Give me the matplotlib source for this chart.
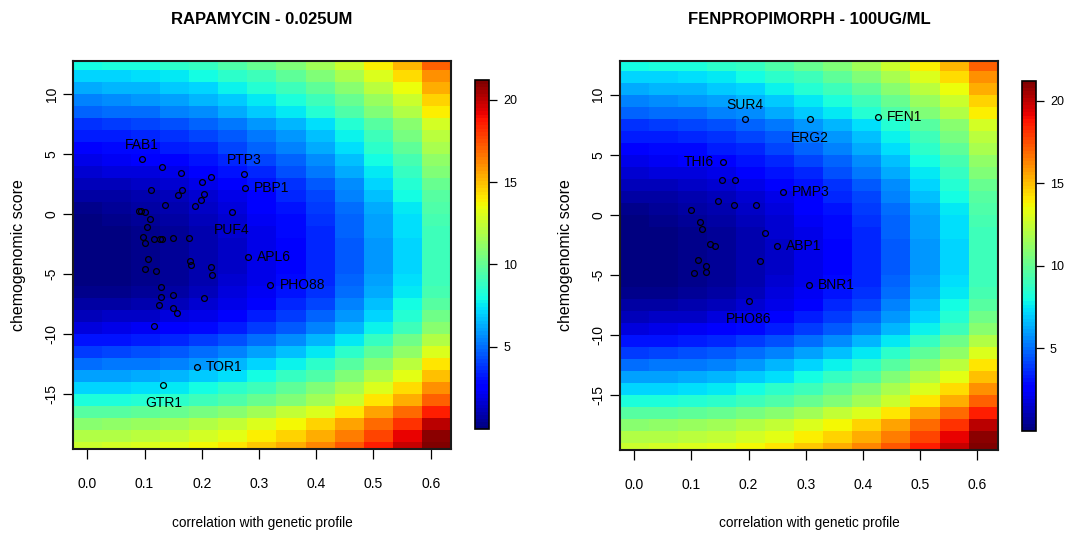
#!/usr/bin/env python3
"""
Two chemogenomic-score vs. correlation panels (rapamycin, fenpropimorph),
each drawn over the same background score surface with a jet colour bar.
"""

import matplotlib.pyplot as plt
import numpy as np

plt.rcParams["font.family"] = ["Liberation Sans", "DejaVu Sans"]

# background surface: column centres (correlation) and row centres (score)
grid_x = [0.0, 0.0508, 0.1017, 0.1525, 0.2033, 0.2542, 0.305,
          0.3558, 0.4067, 0.4575, 0.5083, 0.5592, 0.61]
grid_y = [12.5, 11.5, 10.5, 9.5, 8.5, 7.5, 6.5, 5.5, 4.5, 3.5, 2.5, 1.5,
          0.5, -0.5, -1.5, -2.5, -3.5, -4.5, -5.5, -6.5, -7.5, -8.5,
          -9.5, -10.5, -11.5, -12.5, -13.5, -14.5, -15.5, -16.5, -17.5,
          -18.5, -19.5]
# surface: value at x=0 for each row plus a column term
row_level = [8.0, 7.1, 6.3, 5.5, 4.8, 3.8, 3.2, 2.7, 2.1, 1.6, 1.1, 0.7,
             0.4, 0.2, 0.1, 0.0, 0.0, 0.0, 0.1, 0.3, 0.7, 1.2, 1.9, 3.0,
             4.0, 5.0, 6.0, 7.1, 8.1, 9.6, 11.0, 11.9, 12.7]
col_level = [0.0, 0.1, 0.25, 0.5, 0.9, 1.4, 2.0, 2.7, 3.5, 4.6, 5.9, 7.2, 9.0]

# rapamycin panel
rapa_x = [0.0956, 0.131, 0.164, 0.200, 0.216, 0.274, 0.275, 0.111, 0.165,
          0.158, 0.203, 0.198, 0.136, 0.188, 0.090, 0.093, 0.100, 0.253,
          0.110, 0.104, 0.097, 0.100, 0.117, 0.1265, 0.131, 0.150, 0.178,
          0.180, 0.181, 0.281, 0.106, 0.101, 0.120, 0.216, 0.218, 0.320,
          0.128, 0.128, 0.149, 0.203, 0.125, 0.150, 0.156, 0.117, 0.192,
          0.133]
rapa_y = [4.6, 3.9, 3.43, 2.66, 3.1, 3.35, 2.22, 2.03, 2.03, 1.57, 1.69,
          1.22, 0.78, 0.72, 0.3, 0.3, 0.22, 0.16, -0.36, -1.06, -1.93,
          -2.4, -2.1, -2.1, -2.1, -2.0, -2.0, -3.9, -4.26, -3.56, -3.73,
          -4.53, -4.7, -4.4, -5.08, -5.86, -6.06, -6.9, -6.72, -7.0, -7.6,
          -7.8, -8.26, -9.34, -12.7, -14.2]
rapa_labels = {0: ("FAB1", "above"), 5: ("PTP3", "above"),
               6: ("PBP1", "right"), 17: ("PUF4", "below"),
               29: ("APL6", "right"), 35: ("PHO88", "right"),
               44: ("TOR1", "right"), 45: ("GTR1", "below")}

# fenpropimorph panel
fen_x = [0.194, 0.308, 0.426, 0.156, 0.153, 0.176, 0.260, 0.146, 0.174,
         0.213, 0.099, 0.116, 0.119, 0.228, 0.133, 0.142, 0.249, 0.220,
         0.111, 0.125, 0.126, 0.105, 0.306, 0.200]
fen_y = [8.0, 7.94, 8.1, 4.39, 2.89, 2.89, 1.92, 1.19, 0.83, 0.83, 0.39,
         -0.56, -1.19, -1.53, -2.44, -2.61, -2.61, -3.83, -3.75, -4.28,
         -4.72, -4.8, -5.8, -7.14]
fen_labels = {0: ("SUR4", "above"), 1: ("ERG2", "below"),
              2: ("FEN1", "right"), 3: ("THI6", "left"),
              6: ("PMP3", "right"), 16: ("ABP1", "right"),
              22: ("BNR1", "right"), 23: ("PHO86", "below")}

x_ticks = [0.0, 0.1, 0.2, 0.3, 0.4, 0.5, 0.6]
y_ticks = [10, 5, 0, -5, -10, -15]
cbar_ticks = [5, 10, 15, 20]

surface = np.add.outer(np.array(row_level), np.array(col_level))
cmap = plt.get_cmap("jet", 100)
gx = np.array(grid_x)
gy = np.array(grid_y)
x_edges = np.concatenate([gx - 0.0254, [gx[-1] + 0.0254]])
y_edges = np.concatenate([gy + 0.5, [gy[-1] - 0.5]])

offsets = {"above": ((0, 5), "center", "bottom"),
           "below": ((0, -8), "center", "top"),
           "right": ((6.5, 0), "left", "center"),
           "left": ((-7, 0), "right", "center")}

fig = plt.figure(figsize=(10.67, 5.36), dpi=100)

panels = [
    ("RAPAMYCIN - 0.025UM", rapa_x, rapa_y, rapa_labels,
     [0.0687, 0.1623, 0.3540, 0.7245], [0.4455, 0.1996, 0.0131, 0.6511]),
    ("FENPROPIMORPH - 100UG/ML", fen_x, fen_y, fen_labels,
     [0.5811, 0.1604, 0.3540, 0.7258], [0.9578, 0.1965, 0.0131, 0.6529]),
]

for title, px, py, labels, ax_rect, cb_rect in panels:
    ax = fig.add_axes(ax_rect)
    mesh = ax.pcolormesh(x_edges, y_edges, surface, cmap=cmap,
                         vmin=0, vmax=21.2, shading="flat")
    ax.plot(px, py, "o", markerfacecolor="none", markeredgecolor="black",
            markersize=4.2, markeredgewidth=0.9)
    for i, (name, pos) in labels.items():
        off, ha, va = offsets[pos]
        ax.annotate(name, (px[i], py[i]), xytext=off,
                    textcoords="offset points", ha=ha, va=va, fontsize=10)

    ax.set_xlim(-0.0245, 0.6355)
    ax.set_ylim(-19.56, 12.8)
    ax.set_xticks(x_ticks)
    ax.set_xticklabels([f"{v:.1f}" for v in x_ticks])
    ax.set_yticks(y_ticks)
    ax.set_yticklabels([str(v) for v in y_ticks], rotation=90, va="center")
    ax.tick_params(axis="x", length=7, width=0.9, pad=13, labelsize=10)
    ax.tick_params(axis="y", length=7, width=0.9, pad=3.5, labelsize=10)
    for sp in ax.spines.values():
        sp.set_linewidth(1.5)
        sp.set_color("#1a1a1a")

    cx = ax_rect[0] + ax_rect[2] / 2
    fig.text(cx, 0.963, title, ha="center", va="center", fontsize=12,
             fontweight="bold")
    fig.text(cx, 0.024, "correlation with genetic profile", ha="center",
             va="center", fontsize=9.8)
    fig.text(ax_rect[0] - 0.0515, ax_rect[1] + ax_rect[3] / 2,
             "chemogenomic score", ha="center", va="center",
             rotation=90, fontsize=11.5)

    cax = fig.add_axes(cb_rect)
    cb = fig.colorbar(mesh, cax=cax, ticks=cbar_ticks)
    cb.outline.set_linewidth(1.2)
    cax.tick_params(length=6, width=0.9, pad=4, labelsize=9)

fig.savefig("out.png", dpi=100)
print("saved out.png")
